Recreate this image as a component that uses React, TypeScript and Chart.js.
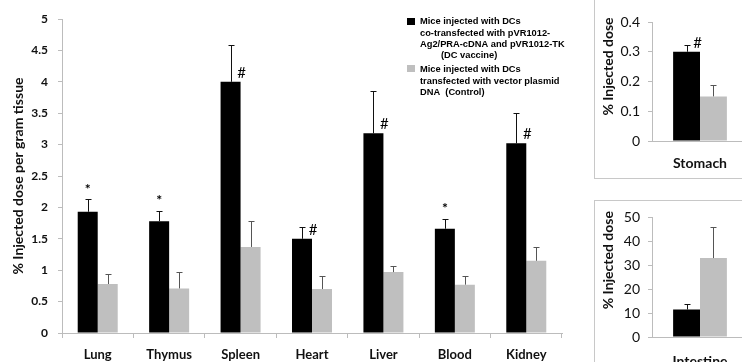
import React, { useEffect, useRef } from "react";
import { Chart, registerables } from "chart.js";

Chart.register(...registerables);

// ---------- data ----------
const categories = ["Lung", "Thymus", "Spleen", "Heart", "Liver", "Blood", "Kidney"];
const vaccine = [1.93, 1.78, 4.0, 1.5, 3.18, 1.66, 3.02];
const vaccineErr = [0.2, 0.17, 0.58, 0.19, 0.67, 0.16, 0.48];
const control = [0.78, 0.71, 1.37, 0.7, 0.97, 0.77, 1.15];
const controlErr = [0.16, 0.26, 0.41, 0.21, 0.1, 0.14, 0.22];
const significance = ["*", "*", "#", "#", "#", "*", "#"];

const stomachCategory = ["Stomach"];
const stomachVaccine = [0.3];
const stomachVaccineErr = [0.022];
const stomachControl = [0.15];
const stomachControlErr = [0.038];
const stomachSignificance = ["#"];

const intestineCategory = ["Intestine"];
const intestineVaccine = [11.5];
const intestineVaccineErr = [2.1];
const intestineControl = [33];
const intestineControlErr = [12.8];
const intestineSignificance = [""];

const mainYTitle = "% Injected dose per gram tissue";
const insetYTitle = "% Injected dose";
const legendVaccine = [
  "Mice injected with DCs",
  "co-transfected with pVR1012-",
  "Ag2/PRA-cDNA and pVR1012-TK",
  "(DC vaccine)",
];
const legendControl = [
  "Mice injected with DCs",
  "transfected with vector plasmid",
  "DNA  (Control)",
];

// ---------- styles ----------
const BLACK = "#000000";
const GRAY = "#bfbfbf";
const AXIS = "#bcbcbc";
const FONT = "Lato, 'Open Sans', sans-serif";
const LEGEND_FONT = "bold 9.3px 'Liberation Sans', Arial, sans-serif";

const fmt = (v: any) => String(Number(Number(v).toFixed(3)));

// ---------- plugins ----------
const errorBarPlugin = {
  id: "errorBars",
  afterDatasetsDraw(chart: any, _a: any, opts: any) {
    const ctx = chart.ctx;
    const y = chart.scales.y;
    const errs = opts.errors || [];
    const colors = opts.colors || [];
    chart.data.datasets.forEach((ds: any, i: number) => {
      const meta = chart.getDatasetMeta(i);
      meta.data.forEach((bar: any, j: number) => {
        const e = errs[i]?.[j];
        if (e == null) return;
        const top = Math.round(y.getPixelForValue(ds.data[j] + e)) + 0.5;
        const x = Math.round(bar.x) + 0.5;
        ctx.save();
        ctx.strokeStyle = colors[i] || "#333";
        ctx.lineWidth = 1;
        ctx.beginPath();
        ctx.moveTo(x, bar.y);
        ctx.lineTo(x, top);
        ctx.moveTo(x - 3, top);
        ctx.lineTo(x + 3, top);
        ctx.stroke();
        ctx.restore();
      });
    });
  },
};

const marksPlugin = {
  id: "marks",
  afterDatasetsDraw(chart: any, _a: any, opts: any) {
    const marks: string[] = opts.marks || [];
    const errs: number[] = opts.errors || [];
    const ctx = chart.ctx;
    const y = chart.scales.y;
    const meta = chart.getDatasetMeta(0);
    const ds = chart.data.datasets[0];
    meta.data.forEach((bar: any, j: number) => {
      const m = marks[j];
      if (!m) return;
      ctx.save();
      ctx.fillStyle = "#000";
      ctx.textAlign = "center";
      ctx.textBaseline = "middle";
      if (m === "*") {
        ctx.font = `bold 14px ${FONT}`;
        const top = y.getPixelForValue(ds.data[j] + (errs[j] || 0));
        ctx.fillText(m, bar.x, top - 10);
      } else {
        ctx.font = `15px ${FONT}`;
        ctx.fillText(m, bar.x + 11, bar.y - 9);
      }
      ctx.restore();
    });
  },
};

const yTitlePlugin = {
  id: "yTitle",
  afterDraw(chart: any, _a: any, opts: any) {
    if (!opts.text) return;
    const ctx = chart.ctx;
    const area = chart.chartArea;
    ctx.save();
    ctx.translate(opts.x, (area.top + area.bottom) / 2 + (opts.dy || 0));
    ctx.rotate(-Math.PI / 2);
    ctx.font = `bold ${opts.size}px ${FONT}`;
    ctx.fillStyle = "#111";
    ctx.textAlign = "center";
    ctx.textBaseline = "middle";
    ctx.fillText(opts.text, 0, 0);
    ctx.restore();
  },
};

const customLegendPlugin = {
  id: "customLegend",
  afterDraw(chart: any, _a: any, opts: any) {
    if (!opts.show) return;
    const ctx = chart.ctx;
    ctx.save();
    ctx.font = LEGEND_FONT;
    ctx.textBaseline = "middle";
    ctx.textAlign = "left";
    ctx.fillStyle = BLACK;
    ctx.fillRect(407, 18, 8, 7);
    ctx.fillStyle = "#000";
    const v1 = [21.5, 33, 44.5, 55];
    legendVaccine.forEach((t, i) => {
      const x = i === 3 ? 441 : 420;
      ctx.fillText(t, x, v1[i]);
    });
    ctx.fillStyle = GRAY;
    ctx.fillRect(407, 65, 8, 7);
    ctx.fillStyle = "#000";
    const v2 = [69.5, 81, 92.5];
    legendControl.forEach((t, i) => ctx.fillText(t, 420, v2[i]));
    ctx.restore();
  },
};

function makeChart(canvas: HTMLCanvasElement, cfg: any) {
  return new Chart(canvas, {
    type: "bar",
    data: {
      labels: cfg.labels,
      datasets: [
        {
          data: cfg.a,
          backgroundColor: BLACK,
          borderWidth: 0,
          barPercentage: 1,
          categoryPercentage: 0.56,
        },
        {
          data: cfg.b,
          backgroundColor: GRAY,
          borderWidth: 0,
          barPercentage: 1,
          categoryPercentage: 0.56,
        },
      ],
    },
    options: {
      responsive: false,
      animation: false,
      devicePixelRatio: 1,
      layout: { padding: { top: cfg.padTop, right: cfg.padRight, left: 0, bottom: 0 } },
      plugins: {
        legend: { display: false },
        tooltip: { enabled: false },
        errorBars: { errors: [cfg.aErr, cfg.bErr], colors: ["#111", "#555"] },
        marks: { marks: cfg.marks, errors: cfg.aErr },
        yTitle: cfg.yTitle,
        customLegend: { show: cfg.legend },
      } as any,
      scales: {
        x: {
          offset: true,
          grid: {
            offset: true,
            drawOnChartArea: false,
            drawTicks: cfg.xTicks,
            tickLength: 5,
            color: AXIS,
          },
          border: { display: true, color: AXIS },
          ticks: { color: "#111", font: cfg.xTickFont, padding: cfg.xTickPad, maxRotation: 0 },
          afterFit: (s: any) => {
            s.height = cfg.xHeight;
          },
        },
        y: {
          min: 0,
          max: cfg.max,
          grid: { drawOnChartArea: false, drawTicks: true, tickLength: 4, color: AXIS },
          border: { display: true, color: AXIS },
          ticks: {
            stepSize: cfg.step,
            color: "#111",
            font: cfg.yTickFont,
            padding: cfg.yTickPad,
            callback: fmt,
          },
          afterFit: (s: any) => {
            s.width = cfg.yWidth;
          },
        },
      },
    },
    plugins: [errorBarPlugin, marksPlugin, yTitlePlugin, customLegendPlugin],
  } as any);
}

export default function App() {
  const mainRef = useRef<HTMLCanvasElement>(null);
  const stomachRef = useRef<HTMLCanvasElement>(null);
  const intestineRef = useRef<HTMLCanvasElement>(null);

  useEffect(() => {
    const charts: Chart[] = [];
    if (mainRef.current) {
      charts.push(
        makeChart(mainRef.current, {
          labels: categories,
          a: vaccine,
          aErr: vaccineErr,
          b: control,
          bErr: controlErr,
          marks: significance,
          max: 5,
          step: 0.5,
          yWidth: 62,
          xHeight: 29,
          padTop: 19,
          padRight: 28,
          yTickFont: { family: FONT, size: 12, weight: "bold" },
          xTickFont: { family: FONT, size: 13, weight: "bold" },
          yTickPad: 10,
          xTickPad: 9,
          xTicks: true,
          yTitle: { text: mainYTitle, x: 18, dy: 0, size: 14 },
          legend: true,
        })
      );
    }
    if (stomachRef.current) {
      charts.push(
        makeChart(stomachRef.current, {
          labels: stomachCategory,
          a: stomachVaccine,
          aErr: stomachVaccineErr,
          b: stomachControl,
          bErr: stomachControlErr,
          marks: stomachSignificance,
          max: 0.4,
          step: 0.1,
          yWidth: 57,
          xHeight: 37,
          padTop: 22,
          padRight: 0,
          yTickFont: { family: FONT, size: 14 },
          xTickFont: { family: FONT, size: 14, weight: "bold" },
          yTickPad: 8,
          xTickPad: 14,
          xTicks: false,
          yTitle: { text: insetYTitle, x: 13, dy: -15, size: 14 },
          legend: false,
        })
      );
    }
    if (intestineRef.current) {
      charts.push(
        makeChart(intestineRef.current, {
          labels: intestineCategory,
          a: intestineVaccine,
          aErr: intestineVaccineErr,
          b: intestineControl,
          bErr: intestineControlErr,
          marks: intestineSignificance,
          max: 50,
          step: 10,
          yWidth: 57,
          xHeight: 64,
          padTop: 11,
          padRight: 0,
          yTickFont: { family: FONT, size: 14 },
          xTickFont: { family: FONT, size: 14, weight: "bold" },
          yTickPad: 8,
          xTickPad: 16,
          xTicks: false,
          yTitle: { text: insetYTitle, x: 13, dy: -17, size: 14 },
          legend: false,
        })
      );
    }
    return () => charts.forEach((c) => c.destroy());
  }, []);

  return (
    <div
      style={{
        position: "fixed",
        left: 0,
        top: 0,
        width: 742,
        height: 362,
        overflow: "hidden",
        background: "#fff",
      }}
    >
      <canvas
        ref={mainRef}
        width={590}
        height={362}
        style={{ position: "absolute", left: 0, top: 0, width: 590, height: 362 }}
      />
      <div
        style={{
          position: "absolute",
          left: 594,
          top: -2,
          width: 200,
          height: 181,
          boxSizing: "border-box",
          border: "1px solid #c8c8c8",
        }}
      />
      <canvas
        ref={stomachRef}
        width={153}
        height={178}
        style={{ position: "absolute", left: 595, top: 0, width: 153, height: 178 }}
      />
      <div
        style={{
          position: "absolute",
          left: 594,
          top: 200,
          width: 200,
          height: 200,
          boxSizing: "border-box",
          border: "1px solid #c8c8c8",
        }}
      />
      <canvas
        ref={intestineRef}
        width={153}
        height={200}
        style={{ position: "absolute", left: 595, top: 201, width: 153, height: 200 }}
      />
    </div>
  );
}
